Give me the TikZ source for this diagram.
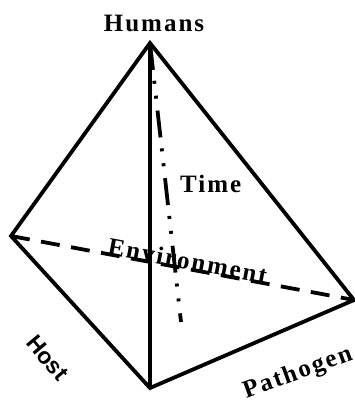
\documentclass[tikz,border=0pt]{standalone}
\usepackage{fontspec}
\setmainfont{Liberation Serif}
\newfontfamily\lblfont[LetterSpace=8]{Liberation Serif}
\newfontfamily\hostfont{Liberation Sans}
\begin{document}
\begin{tikzpicture}[x=1pt,y=-1pt,
  edge/.style={line width=3.8pt, line join=miter, miter limit=20},
  hidden/.style={line width=3.8pt, dash pattern=on 19pt off 11.5pt},
  axis/.style={line width=3.8pt, dash pattern=on 27pt off 11pt on 3pt off 12pt on 3pt off 12pt},
  lbl/.style={inner sep=0pt, font=\lblfont\bfseries\fontsize{25}{29}\selectfont},
  hostlbl/.style={inner sep=0pt, font=\hostfont\bfseries\fontsize{23}{27}\selectfont}]
\useasboundingbox (0,0) rectangle (355,405);
\coordinate (A) at (150,43);
\coordinate (L) at (11,236);
\coordinate (B) at (150,388);
\coordinate (R) at (354,300);
\coordinate (T) at (181,322);
\draw[hidden] (L) -- (R);
\draw[axis] (A) -- (T);
\draw[edge] (L) -- (A) -- (R) -- (B) -- cycle;
\draw[edge] (A) -- (B);
\node[lbl, anchor=base] (hum) at (154,31) {Humans};
\node[lbl, anchor=base west] (tim) at (180,192) {Time};
\node[lbl, anchor=base, rotate=-10.6] (env) at (186,269) {Environment};
\node[hostlbl, rotate=-50] (hst) at (47.5,358) {Host};
\node[lbl, anchor=base, rotate=20] (pat) at (300,379) {Pathogen};
\end{tikzpicture}
\end{document}
